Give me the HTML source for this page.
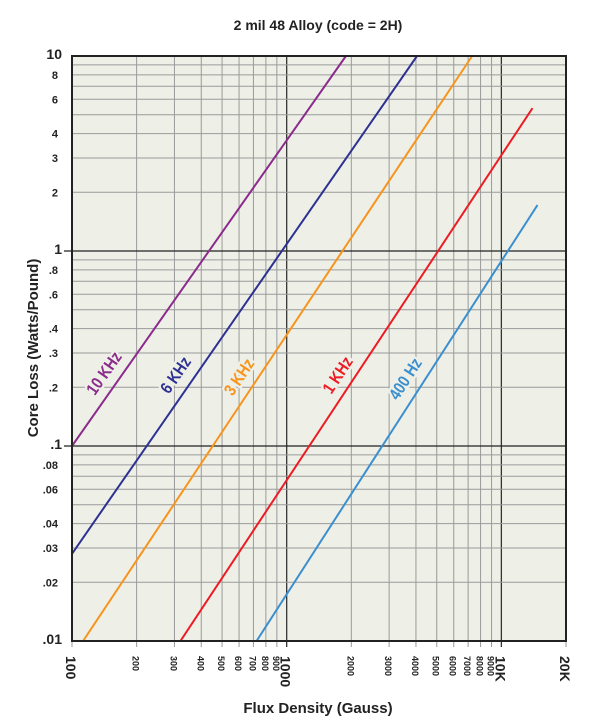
<!DOCTYPE html>
<html><head><meta charset="utf-8">
<style>
html,body{margin:0;padding:0;background:#fff;}
svg{display:block;font-family:"Liberation Sans",sans-serif;}
</style></head>
<body>
<svg id="chart" width="603" height="726" viewBox="0 0 603 726">
<text x="318" y="30" text-anchor="middle" font-size="14" font-weight="bold" fill="#222">2 mil 48 Alloy (code = 2H)</text>
<rect x="72" y="56" width="494" height="585" fill="#eef0e8"/>
<g id="grid"></g>
<g id="series"></g>
<g id="ticks"></g>
<rect x="72" y="56" width="494" height="585" fill="none" stroke="#222" stroke-width="2"/>
<text x="318" y="713" text-anchor="middle" font-size="15" font-weight="bold" fill="#222">Flux Density (Gauss)</text>
<text transform="translate(38,348) rotate(-90)" text-anchor="middle" font-size="15" font-weight="bold" fill="#222">Core Loss (Watts/Pound)</text>
</svg>
<script>
const xTicks=[100,200,300,400,500,600,700,800,900,1000,2000,3000,4000,5000,6000,7000,8000,9000,10000,20000];
const xTickLabels=["100","200","300","400","500","600","700","800","900","1000","2000","3000","4000","5000","6000","7000","8000","9000","10K","20K"];
const yTicks=[0.01,0.02,0.03,0.04,0.05,0.06,0.07,0.08,0.09,0.1,0.2,0.3,0.4,0.5,0.6,0.7,0.8,0.9,1,2,3,4,5,6,7,8,9,10];
const yTickLabels=[".01",".02",".03",".04","",".06","",".08","",".1",".2",".3",".4","",".6","",".8","","1","2","3","4","","6","","8","","10"];
const seriesNames=["10 KHz","6 KHz","3 KHz","1 KHz","400 Hz"];
const seriesColors=["#8b2b8c","#2e3192","#f7941d","#ed1c24","#3b8fcf"];
const seriesX=[[100,1888],[100,4046],[112.6,7310],[320,13960],[724,14730]];
const seriesY=[[0.1,10],[0.028,10],[0.01,10],[0.01,5.4],[0.01,1.72]];
const labelX=[142,306,605,1740,3600];
const labelY=[0.235,0.23,0.225,0.23,0.22];

const NS="http://www.w3.org/2000/svg";
const X0=72,X1=566,Y0=641,Y1=56;
function xs(v){return X0+(Math.log10(v)-2)/(Math.log10(20000)-2)*(X1-X0);}
function ys(v){return Y0-(Math.log10(v)+2)/3*(Y0-Y1);}
function mk(tag,attrs,parent){const e=document.createElementNS(NS,tag);for(const k in attrs)e.setAttribute(k,attrs[k]);parent.appendChild(e);return e;}
const grid=document.getElementById('grid'),ticks=document.getElementById('ticks'),ser=document.getElementById('series');
xTicks.forEach((v,i)=>{
  const x=xs(v);const major=(v===1000||v===10000);
  const l=mk('line',{x1:x,x2:x,y1:Y1,y2:Y0+6,stroke:major?'#333':'#9a9a9a','stroke-width':major?1.3:1},grid);
  
  
  const big=(v===100||v===1000||v===10000||v===20000);
  const t=mk('text',{transform:`translate(${x-(big?6:4)},${656}) rotate(90)`,'font-size':big?14:9,'font-weight':'bold',fill:'#222'},ticks);
  t.textContent=xTickLabels[i];
  
  
});
yTicks.forEach((v,i)=>{
  const y=ys(v);const major=(Math.abs(v-1)<1e-9||Math.abs(v-0.1)<1e-9);
  const l=mk('line',{x1:major?64:X0,x2:X1,y1:y,y2:y,stroke:major?'#222':'#9a9a9a','stroke-width':major?1.3:1},grid);
  
  
  if(yTickLabels[i]){
    const big=(v===1||v===10||Math.abs(v-0.1)<1e-9||v===0.01);
    const t=mk('text',{x:big?62:58,y:y+(big?3:4),'text-anchor':'end','font-size':big?14:11,'font-weight':'bold',fill:'#222'},ticks);
    t.textContent=yTickLabels[i];
    
    
  }
});
seriesNames.forEach((n,i)=>{
  const x1=xs(seriesX[i][0]),y1=ys(seriesY[i][0]),x2=xs(seriesX[i][1]),y2=ys(seriesY[i][1]);
  const l=mk('line',{x1,y1,x2,y2,stroke:seriesColors[i],'stroke-width':2},ser);
  
  
  const ang=Math.atan2(y2-y1,x2-x1)*180/Math.PI;
  const t=mk('text',{transform:`translate(${xs(labelX[i])},${ys(labelY[i])}) rotate(${ang}) scale(0.85,1)`,'font-size':17,'font-weight':'bold',fill:seriesColors[i],'text-anchor':'middle','dominant-baseline':'central',stroke:'#eef0e8','stroke-width':5,'paint-order':'stroke'},ser);
  t.textContent=n;
  
  
});
</script>
</body></html>
